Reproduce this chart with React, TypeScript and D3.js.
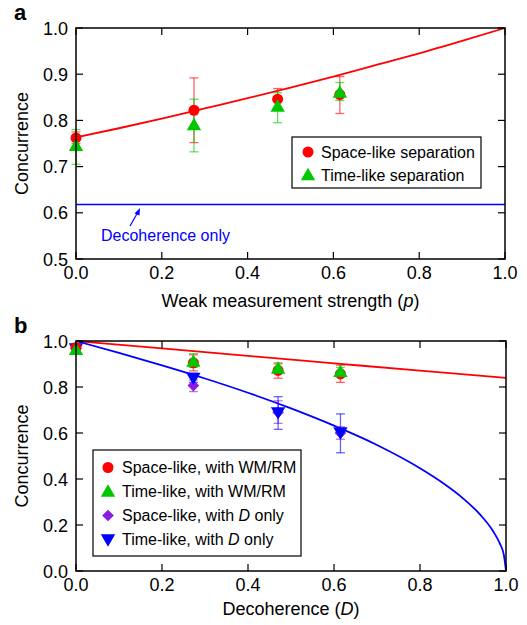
import React, { useRef, useEffect } from 'react';
import * as d3 from 'd3';

// panel a: concurrence vs weak measurement strength
const pA = [0, 0.275, 0.47, 0.615];
const spaceA = [0.762, 0.822, 0.846, 0.856];
const spaceALo = [0.75, 0.752, 0.825, 0.815];
const spaceAHi = [0.775, 0.892, 0.869, 0.895];
const timeA = [0.745, 0.79, 0.83, 0.86];
const timeALo = [0.705, 0.732, 0.795, 0.843];
const timeAHi = [0.78, 0.846, 0.86, 0.882];
const theoryAx = [0, 0.1, 0.2, 0.3, 0.4, 0.5, 0.6, 0.7, 0.8, 0.9, 1.0];
const theoryAy = [0.763, 0.783, 0.804, 0.826, 0.848, 0.871, 0.895, 0.92, 0.945, 0.972, 1.0];
const decohOnly = 0.618;

// panel b: concurrence vs decoherence
const dB = [0, 0.273, 0.47, 0.615];
const spaceWM = [0.972, 0.905, 0.872, 0.857];
const spaceWMLo = [0.955, 0.87, 0.838, 0.82];
const spaceWMHi = [0.985, 0.94, 0.905, 0.895];
const timeWM = [0.962, 0.91, 0.88, 0.866];
const timeWMLo = [0.945, 0.885, 0.865, 0.85];
const timeWMHi = [0.98, 0.945, 0.9, 0.885];
const spaceD = [0.968, 0.806, 0.69, 0.6];
const spaceDLo = [0.95, 0.78, 0.642, 0.573];
const spaceDHi = [0.985, 0.83, 0.74, 0.627];
const timeD = [0.968, 0.84, 0.69, 0.603];
const timeDLo = [0.95, 0.82, 0.616, 0.514];
const timeDHi = [0.985, 0.86, 0.758, 0.683];
const wmCurveX = [0, 0.2, 0.4, 0.6, 0.8, 1.0];
const wmCurveY = [1.0, 0.968, 0.935, 0.903, 0.871, 0.84];
const dCurveX = [0, 0.1, 0.2, 0.3, 0.4, 0.5, 0.6, 0.7, 0.8, 0.85, 0.9, 0.94, 0.97, 0.985, 0.995, 1.0];
const dCurveY = [1, 0.948, 0.894, 0.837, 0.775, 0.707, 0.632, 0.548, 0.447, 0.387, 0.316, 0.245, 0.173, 0.122, 0.07, 0];

const xTicks = [0, 0.2, 0.4, 0.6, 0.8, 1.0];
const yTicksA = [0.5, 0.6, 0.7, 0.8, 0.9, 1.0];
const yTicksB = [0, 0.2, 0.4, 0.6, 0.8, 1.0];

const RED = '#ff0000';
const GREEN = '#00c800';
const BLUE = '#0000ff';
const PURPLE = '#8a1ee0';
const FONT = '"Liberation Sans", Arial, Helvetica, sans-serif';

const App = () => {
    const ref = useRef(null);

    useEffect(() => {
        document.body.style.margin = '0';
        const svg = d3.select(ref.current);
        svg.selectAll('*').remove();

        function marker(g, type, x, y, color) {
            if (type === 'circle') {
                g.append('circle').attr('cx', x).attr('cy', y).attr('r', 5.5).attr('fill', color);
                return;
            }
            if (type === 'diamond') {
                g.append('path').attr('d', d3.symbol().type(d3.symbolSquare).size(68)())
                    .attr('transform', 'translate(' + x + ',' + y + ') rotate(45)').attr('fill', color);
                return;
            }
            let tr = 'translate(' + x + ',' + (y + 1) + ')';
            if (type === 'down') tr = 'translate(' + x + ',' + (y - 1) + ') rotate(180)';
            g.append('path').attr('d', d3.symbol().type(d3.symbolTriangle).size(90)()).attr('transform', tr).attr('fill', color);
        }

        function errBars(g, xs, lo, hi, x, y, color) {
            xs.forEach((v, i) => {
                const cx = x(v);
                g.append('line').attr('x1', cx).attr('x2', cx).attr('y1', y(lo[i])).attr('y2', y(hi[i]))
                    .attr('stroke', color).attr('stroke-width', 1.3).attr('opacity', 0.6);
                [lo[i], hi[i]].forEach((e) => {
                    g.append('line').attr('x1', cx - 4.5).attr('x2', cx + 4.5).attr('y1', y(e)).attr('y2', y(e))
                        .attr('stroke', color).attr('stroke-width', 1.3).attr('opacity', 0.6);
                });
            });
        }

        function frame(x, y, yTicks, xTitle, panel, titleOff) {
            const g = svg.append('g');
            const [x0, x1] = x.range();
            const [y0, y1] = y.range();
            const tk = 7;
            xTicks.forEach((t) => {
                g.append('line').attr('x1', x(t)).attr('x2', x(t)).attr('y1', y0).attr('y2', y0 - tk).attr('stroke', '#000').attr('stroke-width', 1.2);
                g.append('line').attr('x1', x(t)).attr('x2', x(t)).attr('y1', y1).attr('y2', y1 + tk).attr('stroke', '#000').attr('stroke-width', 1.2);
                g.append('text').attr('x', x(t)).attr('y', y0 + 20).attr('text-anchor', 'middle')
                    .attr('font-size', 18).attr('font-family', FONT).text(d3.format('.1f')(t));
            });
            yTicks.forEach((t) => {
                g.append('line').attr('x1', x0).attr('x2', x0 + tk).attr('y1', y(t)).attr('y2', y(t)).attr('stroke', '#000').attr('stroke-width', 1.2);
                g.append('line').attr('x1', x1).attr('x2', x1 - tk).attr('y1', y(t)).attr('y2', y(t)).attr('stroke', '#000').attr('stroke-width', 1.2);
                g.append('text').attr('x', x0 - 8).attr('y', y(t) + 6.5).attr('text-anchor', 'end')
                    .attr('font-size', 18).attr('font-family', FONT).text(d3.format('.1f')(t));
            });
            g.append('rect').attr('x', x0).attr('y', y1).attr('width', x1 - x0).attr('height', y0 - y1)
                .attr('fill', 'none').attr('stroke', '#000').attr('stroke-width', 1.5);
            g.append('text').attr('transform', 'translate(28,' + ((y0 + y1) / 2) + ') rotate(-90)')
                .attr('text-anchor', 'middle').attr('font-size', 18).attr('font-family', FONT).text('Concurrence');
            const xt = g.append('text').attr('x', (x0 + x1) / 2).attr('y', y0 + titleOff).attr('text-anchor', 'middle')
                .attr('font-size', 18).attr('font-family', FONT);
            xt.append('tspan').text(xTitle[0] + ' (');
            xt.append('tspan').attr('font-style', 'italic').text(xTitle[1]);
            xt.append('tspan').text(')');
            g.append('text').attr('x', 14).attr('y', y1 - 8).attr('font-size', 22).attr('font-weight', 'bold')
                .attr('font-family', FONT).text(panel);
        }

        // ---- panel a
        const xA = d3.scaleLinear().domain([0, 1]).range([76, 505]);
        const yA = d3.scaleLinear().domain([0.5, 1]).range([259, 28]);
        const line = d3.line().curve(d3.curveMonotoneX);

        const ga = svg.append('g');
        ga.append('path').attr('d', line(theoryAx.map((v, i) => [xA(v), yA(theoryAy[i])])))
            .attr('fill', 'none').attr('stroke', RED).attr('stroke-width', 1.8);
        ga.append('line').attr('x1', xA(0)).attr('x2', xA(1)).attr('y1', yA(decohOnly)).attr('y2', yA(decohOnly))
            .attr('stroke', BLUE).attr('stroke-width', 1.6);
        errBars(ga, pA, spaceALo, spaceAHi, xA, yA, RED);
        errBars(ga, pA, timeALo, timeAHi, xA, yA, GREEN);
        pA.forEach((v, i) => marker(ga, 'circle', xA(v), yA(spaceA[i]), RED));
        pA.forEach((v, i) => marker(ga, 'up', xA(v), yA(timeA[i]), GREEN));

        // decoherence annotation
        ga.append('line').attr('x1', 130).attr('y1', 226).attr('x2', 138).attr('y2', 212)
            .attr('stroke', BLUE).attr('stroke-width', 1.2);
        ga.append('path').attr('d', 'M140,208 L134.5,213.5 L139.5,215.5 Z').attr('fill', BLUE);
        ga.append('text').attr('x', 101).attr('y', 241).attr('font-size', 16).attr('font-family', FONT)
            .attr('fill', BLUE).text('Decoherence only');

        // legend a
        ga.append('rect').attr('x', 292).attr('y', 137).attr('width', 189).attr('height', 51)
            .attr('fill', '#fff').attr('stroke', '#000').attr('stroke-width', 1.2);
        const legA = [['circle', RED, 'Space-like separation'], ['up', GREEN, 'Time-like separation']];
        legA.forEach((d, i) => {
            const yy = 152 + i * 23;
            marker(ga, d[0], 308, yy, d[1]);
            ga.append('text').attr('x', 321).attr('y', yy + 5.5).attr('font-size', 16).attr('font-family', FONT).text(d[2]);
        });
        frame(xA, yA, yTicksA, ['Weak measurement strength', 'p'], 'a', 48);

        // ---- panel b
        const xB = d3.scaleLinear().domain([0, 1]).range([76, 506]);
        const yB = d3.scaleLinear().domain([0, 1]).range([571, 341]);
        const gb = svg.append('g');
        gb.append('path').attr('d', line(wmCurveX.map((v, i) => [xB(v), yB(wmCurveY[i])])))
            .attr('fill', 'none').attr('stroke', RED).attr('stroke-width', 1.8);
        gb.append('path').attr('d', line(dCurveX.map((v, i) => [xB(v), yB(dCurveY[i])])))
            .attr('fill', 'none').attr('stroke', BLUE).attr('stroke-width', 1.8);
        errBars(gb, dB, spaceDLo, spaceDHi, xB, yB, PURPLE);
        errBars(gb, dB, timeDLo, timeDHi, xB, yB, BLUE);
        errBars(gb, dB, spaceWMLo, spaceWMHi, xB, yB, RED);
        errBars(gb, dB, timeWMLo, timeWMHi, xB, yB, GREEN);
        dB.forEach((v, i) => marker(gb, 'diamond', xB(v), yB(spaceD[i]), PURPLE));
        dB.forEach((v, i) => marker(gb, 'down', xB(v), yB(timeD[i]), BLUE));
        dB.forEach((v, i) => marker(gb, 'circle', xB(v), yB(spaceWM[i]), RED));
        dB.forEach((v, i) => marker(gb, 'up', xB(v), yB(timeWM[i]), GREEN));

        gb.append('rect').attr('x', 93).attr('y', 450).attr('width', 208).attr('height', 106)
            .attr('fill', '#fff').attr('stroke', '#000').attr('stroke-width', 1.2);
        const legB = [
            ['circle', RED, 'Space-like, with WM/RM', null],
            ['up', GREEN, 'Time-like, with WM/RM', null],
            ['diamond', PURPLE, 'Space-like, with ', 'D'],
            ['down', BLUE, 'Time-like, with ', 'D'],
        ];
        legB.forEach((d, i) => {
            const yy = 467.5 + i * 24;
            marker(gb, d[0], 108, yy, d[1]);
            const t = gb.append('text').attr('x', 122).attr('y', yy + 5.5).attr('font-size', 16).attr('font-family', FONT);
            t.append('tspan').text(d[2]);
            if (d[3]) {
                t.append('tspan').attr('font-style', 'italic').text(d[3]);
                t.append('tspan').text(' only');
            }
        });
        frame(xB, yB, yTicksB, ['Decoherence', 'D'], 'b', 44);
    }, []);

    return (
        <svg ref={ref} width={527} height={625} style={{ display: 'block', background: '#fff' }} />
    );
};

export default App;
